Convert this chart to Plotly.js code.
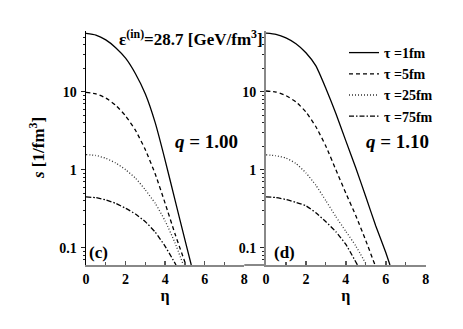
<!DOCTYPE html>
<html>
<head>
<meta charset="utf-8">
<script src="https://cdn.plot.ly/plotly-3.0.1.min.js"></script>
<style>html,body{margin:0;padding:0;background:#fff;}</style>
</head>
<body>
<div id="chart" style="width:463px;height:329px;"></div>
<script>
// ---- data ----
const seriesNames = ['\u03c4 =1fm', '\u03c4 =5fm', '\u03c4 =25fm', '\u03c4 =75fm'];

// panel (c), q = 1.00
const c_tau1_eta = [0, 0.5, 1, 1.5, 2, 2.5, 3, 3.5, 4, 4.5, 5, 5.32];
const c_tau1_s   = [55.8, 53.1, 46.2, 36.7, 26.9, 17.0, 9.33, 3.98, 1.32, 0.407, 0.126, 0.06];
const c_tau5_eta = [0, 0.5, 1, 1.5, 2, 2.5, 3, 3.5, 4, 4.5, 5.05];
const c_tau5_s   = [9.8, 9.4, 8.3, 6.7, 4.9, 3.2, 1.8, 0.88, 0.37, 0.15, 0.06];
const c_tau25_eta = [0, 0.5, 1, 1.5, 2, 2.5, 3, 3.5, 4, 4.5, 4.92];
const c_tau25_s   = [1.56, 1.52, 1.40, 1.22, 1.0, 0.78, 0.55, 0.37, 0.22, 0.115, 0.06];
const c_tau75_eta = [0, 0.5, 1, 1.5, 2, 2.5, 3, 3.5, 4, 4.55];
const c_tau75_s   = [0.447, 0.438, 0.41, 0.37, 0.32, 0.27, 0.215, 0.158, 0.104, 0.06];

// panel (d), q = 1.10
const d_tau1_eta = [0, 0.5, 1, 1.5, 2, 2.5, 3, 3.5, 4, 4.5, 5, 5.5, 6, 6.21];
const d_tau1_s   = [56.2, 54.3, 49, 41.2, 31.6, 21.4, 11.0, 5.25, 2.34, 1.05, 0.45, 0.19, 0.087, 0.06];
const d_tau5_eta = [0, 0.5, 1, 1.5, 2, 2.5, 3, 3.5, 4, 4.5, 5, 5.46];
const d_tau5_s   = [10.2, 9.9, 8.9, 7.4, 5.5, 3.55, 2.0, 1.0, 0.5, 0.257, 0.123, 0.06];
const d_tau25_eta = [0, 0.5, 1, 1.5, 2, 2.5, 3, 3.5, 4, 4.5, 5.04];
const d_tau25_s   = [1.55, 1.51, 1.41, 1.2, 0.91, 0.63, 0.40, 0.25, 0.162, 0.105, 0.06];
const d_tau75_eta = [0, 0.5, 1, 1.5, 2, 2.5, 3, 3.5, 4, 4.58];
const d_tau75_s   = [0.447, 0.44, 0.415, 0.38, 0.345, 0.28, 0.215, 0.16, 0.11, 0.06];

const xTickVals = [0, 2, 4, 6, 8];
const yTickVals = [0.1, 1, 10];
const yTickText = ['0.1', '1', '10'];
const panelLabels = ['(c)', '(d)'];
const qLabels = ['<i>q</i> = 1.00', '<i>q</i> = 1.10'];

// ---- styles ----
const dashes = ['solid', '4px,3px', '1px,2px', '5px,2px,1.5px,2px'];
const colors = ['#000', '#000', '#333', '#000'];

const cX = [c_tau1_eta, c_tau5_eta, c_tau25_eta, c_tau75_eta];
const cY = [c_tau1_s, c_tau5_s, c_tau25_s, c_tau75_s];
const dX = [d_tau1_eta, d_tau5_eta, d_tau25_eta, d_tau75_eta];
const dY = [d_tau1_s, d_tau5_s, d_tau25_s, d_tau75_s];

const traces = [];
for (let i = 0; i < 4; i++) {
  traces.push({x: cX[i], y: cY[i], xaxis: 'x', yaxis: 'y', mode: 'lines', name: seriesNames[i],
    legendgroup: 'g' + i, showlegend: true,
    line: {color: colors[i], width: 1.3, dash: dashes[i], shape: 'spline', smoothing: 0.5}});
}
for (let i = 0; i < 4; i++) {
  traces.push({x: dX[i], y: dY[i], xaxis: 'x2', yaxis: 'y2', mode: 'lines', name: seriesNames[i],
    legendgroup: 'g' + i, showlegend: false,
    line: {color: colors[i], width: 1.3, dash: dashes[i], shape: 'spline', smoothing: 0.5}});
}

const W = 463, H = 329, T = 31, B = 64;
const px = v => v / W;
const py = v => (H - B - v) / (H - T - B);
const FONT = '"Liberation Serif", "Times New Roman", Times, serif';

const yMinor = [0.07, 0.08, 0.09, 0.2, 0.3, 0.4, 0.5, 0.6, 0.7, 0.8, 0.9, 2, 3, 4, 5, 6, 7, 8, 9, 20, 30, 40, 50];
function xAxis(domain, anchor) {
  return {domain: domain, anchor: anchor, range: [0, 8], tickmode: 'array', tickvals: xTickVals,
    ticks: 'inside', ticklen: 4, tickwidth: 1.5, tickcolor: '#555',
    showline: true, linecolor: '#888', linewidth: 2, zeroline: false, showgrid: false,
    ticklabelstandoff: 0, tickfont: {size: 14, family: FONT, weight: 'bold', color: '#000'},
    minor: {tickmode: 'array', tickvals: [1, 3, 5, 7], ticks: 'inside', ticklen: 3, tickwidth: 1.2, tickcolor: '#555'},
    title: {text: '\u03b7', font: {size: 16, family: FONT, weight: 'bold', color: '#000'}, standoff: 2}};
}
function yAxis(anchor, lc) {
  return {anchor: anchor, type: 'log', range: [Math.log10(0.06), Math.log10(60)], tickmode: 'array',
    tickvals: yTickVals, ticktext: yTickText, ticks: 'outside', ticklen: 4, tickwidth: 1.2, tickcolor: '#222',
    showline: true, linecolor: lc, linewidth: lc === '#000' ? 1.5 : 2, zeroline: false, showgrid: false,
    tickfont: {size: 14, family: FONT, weight: 'bold', color: '#000'}, ticklabelstandoff: 1,
    minor: {tickmode: 'array', tickvals: yMinor, ticks: 'outside', ticklen: 2, tickwidth: 1, tickcolor: '#222'}};
}

const layout = {
  width: W, height: H, autosize: false,
  margin: {l: 0, r: 0, t: T, b: B, pad: 0},
  paper_bgcolor: '#fff', plot_bgcolor: '#fff',
  font: {family: FONT, size: 13, color: '#000', weight: 'bold'},
  showlegend: true,
  legend: {x: px(344), y: py(37), xanchor: 'left', yanchor: 'top', bgcolor: 'rgba(0,0,0,0)',
    font: {size: 14, family: FONT, weight: 'bold', color: '#000'}, tracegroupgap: 0, itemwidth: 30},
  xaxis: xAxis([px(86), px(244.3)], 'y'),
  yaxis: yAxis('x', '#000'),
  xaxis2: xAxis([px(266), px(425.7)], 'y2'),
  yaxis2: yAxis('x2', '#888'),
  shapes: [
    {type: 'line', xref: 'paper', yref: 'paper', x0: px(244.3), x1: px(266), y0: 0, y1: 0,
     line: {color: '#888', width: 2}}
  ],
  annotations: [
    {xref: 'paper', yref: 'paper', x: px(117), y: py(38), xanchor: 'left', yanchor: 'middle', showarrow: false,
     text: '\u03b5<sup>(in)</sup>=28.7 [GeV/fm<sup>3</sup>]', font: {size: 17, family: FONT, weight: 'bold', color: '#000'}},
    {xref: 'paper', yref: 'paper', x: px(206), y: py(141), xanchor: 'center', yanchor: 'middle', showarrow: false,
     text: qLabels[0], font: {size: 19, family: FONT, weight: 'bold', color: '#000'}},
    {xref: 'paper', yref: 'paper', x: px(397.5), y: py(141), xanchor: 'center', yanchor: 'middle', showarrow: false,
     text: qLabels[1], font: {size: 19, family: FONT, weight: 'bold', color: '#000'}},
    {xref: 'paper', yref: 'paper', x: px(87), y: py(252), xanchor: 'left', yanchor: 'middle', showarrow: false,
     text: panelLabels[0], font: {size: 17, family: FONT, weight: 'bold', color: '#000'}},
    {xref: 'paper', yref: 'paper', x: px(272), y: py(252), xanchor: 'left', yanchor: 'middle', showarrow: false,
     text: panelLabels[1], font: {size: 17, family: FONT, weight: 'bold', color: '#000'}},
    {xref: 'paper', yref: 'paper', x: px(37), y: py(148), xanchor: 'center', yanchor: 'middle', showarrow: false,
     textangle: -90, text: '<i>s</i> [1/fm<sup>3</sup>]', font: {size: 17, family: FONT, weight: 'bold', color: '#000'}}
  ]
};

Plotly.newPlot('chart', traces, layout, {staticPlot: true, displayModeBar: false});
</script>
</body>
</html>
